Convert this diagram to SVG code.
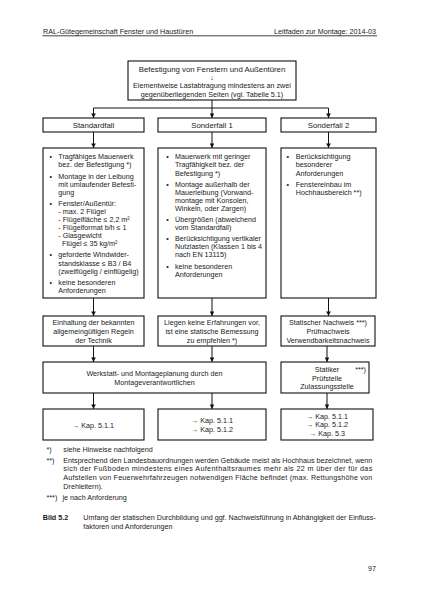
<svg xmlns="http://www.w3.org/2000/svg" width="425" height="600" viewBox="0 0 425 600">
<style>
.bg{fill:#fff}
.box{fill:#fff;stroke:#111;stroke-width:1.1}
.t{font-family:"Liberation Sans",Arial,sans-serif;font-size:7.2px;fill:#1a1a1a}
.h{font-size:7.8px}
.c{text-anchor:middle}
.e{text-anchor:end}
.b{font-weight:bold}
.conn{stroke:#111;stroke-width:1;fill:none}
</style>
<defs>
<marker id="ah" viewBox="0 0 10 10" refX="10" refY="5" markerWidth="4.6" markerHeight="4.6" markerUnits="userSpaceOnUse" orient="auto"><path d="M0,0 L10,5 L0,10 z" fill="#111"/></marker>
</defs>
<rect class="bg" x="0" y="0" width="425" height="600"/>

<g id="page-header">
<text class="t" x="43" y="33.5">RAL-Gütegemeinschaft Fenster und Haustüren</text>
<text class="t e" x="376" y="33.5">Leitfaden zur Montage: 2014-03</text>
<line x1="42.5" y1="35.8" x2="377" y2="35.8" stroke="#444" stroke-width="1"/>
</g>

<g id="connectors">
<line class="conn" x1="212" y1="100" x2="212" y2="118" marker-end="url(#ah)"/>
<line class="conn" x1="93.5" y1="108" x2="328.5" y2="108"/>
<line class="conn" x1="93.5" y1="108" x2="93.5" y2="118" marker-end="url(#ah)"/>
<line class="conn" x1="328.5" y1="108" x2="328.5" y2="118" marker-end="url(#ah)"/>
<line class="conn" x1="93.5" y1="132" x2="93.5" y2="148" marker-end="url(#ah)"/>
<line class="conn" x1="212" y1="132" x2="212" y2="148" marker-end="url(#ah)"/>
<line class="conn" x1="328.5" y1="132" x2="328.5" y2="148" marker-end="url(#ah)"/>
<line class="conn" x1="93.5" y1="298" x2="93.5" y2="316" marker-end="url(#ah)"/>
<line class="conn" x1="212" y1="298" x2="212" y2="316" marker-end="url(#ah)"/>
<line class="conn" x1="328.5" y1="298" x2="328.5" y2="316" marker-end="url(#ah)"/>
<line class="conn" x1="93.5" y1="346" x2="93.5" y2="362" marker-end="url(#ah)"/>
<line class="conn" x1="212" y1="346" x2="212" y2="362" marker-end="url(#ah)"/>
<line class="conn" x1="327" y1="346" x2="327" y2="362" marker-end="url(#ah)"/>
<line class="conn" x1="93.5" y1="393" x2="93.5" y2="409" marker-end="url(#ah)"/>
<line class="conn" x1="212" y1="393" x2="212" y2="409" marker-end="url(#ah)"/>
<line class="conn" x1="327" y1="393" x2="327" y2="409" marker-end="url(#ah)"/>
</g>

<g id="n-top">
<rect class="box" x="128" y="61" width="168" height="39"/>
<text class="t h c" x="212" y="71.8">Befestigung von Fenstern und Außentüren</text>
<text class="t c" x="212" y="80.3">↓</text>
<text class="t c" x="212" y="88.2">Elementweise Lastabtragung mindestens an zwei</text>
<text class="t c" x="212" y="96.6">gegenüberliegenden Seiten (vgl. Tabelle 5.1)</text>
</g>

<g id="n-standardfall">
<rect class="box" x="43" y="118" width="101" height="14"/>
<text class="t h c" x="93.5" y="127.8">Standardfall</text>
</g>
<g id="n-sonderfall1">
<rect class="box" x="158" y="118" width="108" height="14"/>
<text class="t h c" x="212" y="127.8">Sonderfall 1</text>
</g>
<g id="n-sonderfall2">
<rect class="box" x="281" y="118" width="95" height="14"/>
<text class="t h c" x="328.5" y="127.8">Sonderfall 2</text>
</g>

<g id="n-std-list">
<rect class="box" x="43" y="148" width="101" height="150"/>
<text class="t" x="49.5" y="159.3">•</text>
<text class="t" x="58.3" y="159.3">Tragfähiges Mauerwerk</text>
<text class="t" x="58.3" y="167.4">bez. der Befestigung *)</text>
<text class="t" x="49.5" y="178.5">•</text>
<text class="t" x="58.3" y="178.5">Montage in der Leibung</text>
<text class="t" x="58.3" y="186.6">mit umlaufender Befesti-</text>
<text class="t" x="58.3" y="194.7">gung</text>
<text class="t" x="49.5" y="205.8">•</text>
<text class="t" x="58.3" y="205.8">Fenster/Außentür:</text>
<text class="t" x="58.3" y="213.9">- max. 2 Flügel</text>
<text class="t" x="58.3" y="222.0">- Flügelfläche ≤ 2,2 m²</text>
<text class="t" x="58.3" y="230.1">- Flügelformat b/h ≤ 1</text>
<text class="t" x="58.3" y="238.2">- Glasgewicht</text>
<text class="t" x="62" y="246.3">Flügel ≤ 35 kg/m²</text>
<text class="t" x="49.5" y="257.4">•</text>
<text class="t" x="58.3" y="257.4">geforderte Windwider-</text>
<text class="t" x="58.3" y="265.5">standsklasse ≤ B3 / B4</text>
<text class="t" x="58.3" y="273.6">(zweiflügelig / einflügelig)</text>
<text class="t" x="49.5" y="284.7">•</text>
<text class="t" x="58.3" y="284.7">keine besonderen</text>
<text class="t" x="58.3" y="292.8">Anforderungen</text>
</g>

<g id="n-s1-list">
<rect class="box" x="158" y="148" width="108" height="150"/>
<text class="t" x="166.2" y="159.3">•</text>
<text class="t" x="175" y="159.3">Mauerwerk mit geringer</text>
<text class="t" x="175" y="167.4">Tragfähigkeit bez. der</text>
<text class="t" x="175" y="175.5">Befestigung *)</text>
<text class="t" x="166.2" y="186.6">•</text>
<text class="t" x="175" y="186.6">Montage außerhalb der</text>
<text class="t" x="175" y="194.7">Mauerleibung (Vorwand-</text>
<text class="t" x="175" y="202.8">montage mit Konsolen,</text>
<text class="t" x="175" y="210.9">Winkeln, oder Zargen)</text>
<text class="t" x="166.2" y="222.0">•</text>
<text class="t" x="175" y="222.0">Übergrößen (abweichend</text>
<text class="t" x="175" y="230.1">vom Standardfall)</text>
<text class="t" x="166.2" y="241.2">•</text>
<text class="t" x="175" y="241.2">Berücksichtigung vertikaler</text>
<text class="t" x="175" y="249.3">Nutzlasten (Klassen 1 bis 4</text>
<text class="t" x="175" y="257.4">nach EN 13115)</text>
<text class="t" x="166.2" y="268.5">•</text>
<text class="t" x="175" y="268.5">keine besonderen</text>
<text class="t" x="175" y="276.6">Anforderungen</text>
</g>

<g id="n-s2-list">
<rect class="box" x="281" y="148" width="95" height="150"/>
<text class="t" x="286.5" y="159.3">•</text>
<text class="t" x="295.7" y="159.3">Berücksichtigung</text>
<text class="t" x="295.7" y="167.4">besonderer</text>
<text class="t" x="295.7" y="175.5">Anforderungen</text>
<text class="t" x="286.5" y="186.6">•</text>
<text class="t" x="295.7" y="186.6">Fenstereinbau im</text>
<text class="t" x="295.7" y="194.7">Hochhausbereich **)</text>
</g>

<g id="n-std-rules">
<rect class="box" x="43" y="316" width="101" height="30"/>
<text class="t c" x="93.5" y="324.9">Einhaltung der bekannten</text>
<text class="t c" x="93.5" y="333.9">allgemeingültigen Regeln</text>
<text class="t c" x="93.5" y="342.9">der Technik</text>
</g>
<g id="n-s1-rules">
<rect class="box" x="158" y="316" width="108" height="30"/>
<text class="t c" x="212" y="324.9">Liegen keine Erfahrungen vor,</text>
<text class="t c" x="212" y="333.9">ist eine statische Bemessung</text>
<text class="t c" x="212" y="342.9">zu empfehlen *)</text>
</g>
<g id="n-s2-rules">
<rect class="box" x="281" y="316" width="94" height="30"/>
<text class="t c" x="328" y="324.9">Statischer Nachweis ***)</text>
<text class="t c" x="328" y="333.9">Prüfnachweis</text>
<text class="t c" x="328" y="342.9">Verwendbarkeitsnachweis</text>
</g>

<g id="n-planung">
<rect class="box" x="43" y="362" width="223" height="31"/>
<text class="t c" x="154.5" y="376">Werkstatt- und Montageplanung durch den</text>
<text class="t c" x="154.5" y="385">Montageverantwortlichen</text>
</g>
<g id="n-statiker">
<rect class="box" x="281" y="362" width="88" height="31"/>
<text class="t c" x="327" y="372.3">Statiker</text>
<text class="t e" x="366" y="372.3">***)</text>
<text class="t c" x="327" y="380.8">Prüfstelle</text>
<text class="t c" x="327" y="389.3">Zulassungsstelle</text>
</g>

<g id="n-kap1">
<rect class="box" x="43" y="409" width="101" height="31"/>
<text class="t c" x="93" y="428.3">→ Kap. 5.1.1</text>
</g>
<g id="n-kap2">
<rect class="box" x="158" y="409" width="108" height="31"/>
<text class="t c" x="212" y="422.6">→ Kap. 5.1.1</text>
<text class="t c" x="212" y="431.6">→ Kap. 5.1.2</text>
</g>
<g id="n-kap3">
<rect class="box" x="281" y="409" width="92" height="31"/>
<text class="t c" x="327" y="418.8">→ Kap. 5.1.1</text>
<text class="t c" x="327" y="427.3">→ Kap. 5.1.2</text>
<text class="t c" x="327" y="435.8">→ Kap. 5.3</text>
</g>

<g id="footnotes">
<text class="t" x="46.5" y="451.6">*)</text>
<text class="t" x="63.3" y="451.6">siehe Hinweise nachfolgend</text>
<text class="t" x="46.5" y="462.6">**)</text>
<text class="t" x="63.3" y="462.6" textLength="309" lengthAdjust="spacing">Entsprechend den Landesbauordnungen werden Gebäude meist als Hochhaus bezeichnet, wenn</text>
<text class="t" x="63.3" y="471.3" textLength="309" lengthAdjust="spacing">sich der Fußboden mindestens eines Aufenthaltsraumes mehr als 22 m über der für das</text>
<text class="t" x="63.3" y="480.0" textLength="309" lengthAdjust="spacing">Aufstellen von Feuerwehrfahrzeugen notwendigen Fläche befindet (max. Rettungshöhe von</text>
<text class="t" x="63.3" y="488.7">Drehleitern).</text>
<text class="t" x="46.5" y="499.6">***)</text>
<text class="t" x="62.5" y="499.6">je nach Anforderung</text>
</g>

<g id="caption">
<text class="t b" x="42.7" y="519.6">Bild 5.2</text>
<text class="t" x="83.3" y="519.6" textLength="292.5" lengthAdjust="spacing">Umfang der statischen Durchbildung und ggf. Nachweisführung in Abhängigkeit der Einfluss-</text>
<text class="t" x="83.3" y="528.6">faktoren und Anforderungen</text>
<text class="t e" x="376" y="571">97</text>
</g>
</svg>
